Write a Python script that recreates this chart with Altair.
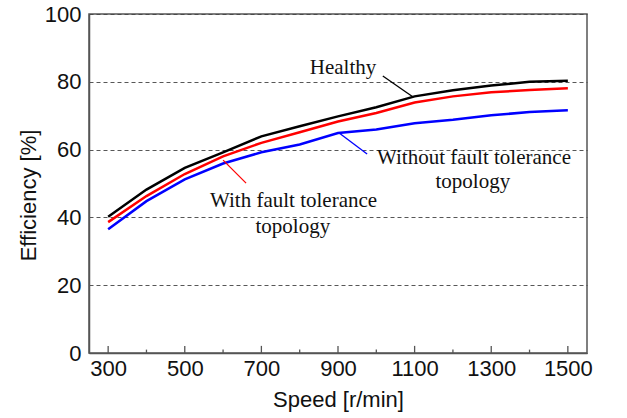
import altair as alt
import pandas as pd

speed = [300, 400, 500, 600, 700, 800, 900, 1000, 1100, 1200, 1300, 1400, 1500]
healthy = [40.2, 48.2, 54.6, 59.2, 63.9, 66.9, 69.8, 72.5, 75.7, 77.5, 78.9, 80.0, 80.3]
with_ft = [38.6, 46.3, 52.8, 58.0, 62.0, 65.1, 68.3, 70.8, 73.9, 75.7, 76.9, 77.6, 78.1]
without_ft = [36.5, 44.8, 51.2, 55.9, 59.2, 61.5, 64.9, 65.9, 67.8, 68.8, 70.1, 71.1, 71.6]

series_names = ["Without", "With", "Healthy"]
series_colors = ["#0000ff", "#ff0000", "#000000"]

x_major = [300, 500, 700, 900, 1100, 1300, 1500]
x_minor = [400, 600, 800, 1000, 1200, 1400]
y_ticks = [0, 20, 40, 60, 80, 100]

# annotation texts
ann_text = ["Healthy", "Without fault tolerance", "topology", "With fault tolerance", "topology"]
ann_x = [913, 1255, 1252, 784, 782]
ann_y = [82.4, 55.8, 48.7, 43.1, 35.4]

# leader lines
lead_series = ["Healthy", "Without", "With"]
lead_x1 = [1017, 903, 600]
lead_y1 = [81.7, 64.9, 56.9]
lead_x2 = [1096, 976, 660]
lead_y2 = [75.5, 58.7, 50.1]

rows = []
for name, vals in zip(series_names, [without_ft, with_ft, healthy]):
    for s, v in zip(speed, vals):
        rows.append({"speed": s, "eff": v, "series": name})
df = pd.DataFrame(rows)

xs = alt.Scale(domain=[250, 1550], nice=False, zero=False)
ys = alt.Scale(domain=[0, 100], nice=False)
cs = alt.Scale(domain=series_names, range=series_colors)

lines = alt.Chart(df).mark_line(strokeWidth=2.5).encode(
    x=alt.X("speed:Q", scale=xs,
            axis=alt.Axis(values=x_major, format="d", title="Speed [r/min]", ticks=False, grid=False,
                          labelFontSize=22, labelPadding=5, titleFontSize=22,
                          titleFontWeight="normal", titleY=36, titleBaseline="top",
                          labelFlush=False)),
    y=alt.Y("eff:Q", scale=ys,
            axis=alt.Axis(values=y_ticks, format="d", title="Efficiency [%]", ticks=False, grid=True,
                          gridDash=[4, 3], gridColor="#444", gridWidth=0.9,
                          labelFontSize=22, labelPadding=8, titleFontSize=22,
                          titleFontWeight="normal", titleX=-61, titleY=181,
                          titleAlign="center", titleBaseline="middle")),
    color=alt.Color("series:N", scale=cs, legend=None),
    detail="series:N",
)

tick_major = alt.Chart(pd.DataFrame({"t": x_major})).mark_rule(color="#555", strokeWidth=1.3).encode(
    x=alt.X("t:Q", scale=xs), y=alt.datum(0, scale=ys), y2=alt.datum(2.1))
tick_minor = alt.Chart(pd.DataFrame({"t": x_minor})).mark_rule(color="#555", strokeWidth=1.3).encode(
    x=alt.X("t:Q", scale=xs), y=alt.datum(0, scale=ys), y2=alt.datum(1.0))

lead_df = pd.DataFrame({"series": lead_series, "x1": lead_x1, "y1": lead_y1, "x2": lead_x2, "y2": lead_y2})
leaders = alt.Chart(lead_df).mark_rule(strokeWidth=1.3).encode(
    x=alt.X("x1:Q", scale=xs), y=alt.Y("y1:Q", scale=ys),
    x2="x2:Q", y2="y2:Q",
    color=alt.Color("series:N", scale=cs, legend=None),
)

ann_df = pd.DataFrame({"text": ann_text, "x": ann_x, "y": ann_y})
texts = alt.Chart(ann_df).mark_text(font="Liberation Serif", fontSize=21, align="center",
                                    baseline="alphabetic", color="#111").encode(
    x=alt.X("x:Q", scale=xs), y=alt.Y("y:Q", scale=ys), text="text:N")

chart = alt.layer(lines, tick_major, tick_minor, leaders, texts).properties(
    width=498, height=339,
    autosize=alt.AutoSizeParams(type="none"),
    padding={"left": 89, "top": 14, "right": 40, "bottom": 65},
).configure(font="Liberation Sans").configure_view(
    stroke="#555", strokeWidth=1.5
).configure_axis(
    domainColor="#555", domainWidth=1.5, labelColor="#111", titleColor="#111",
    labelFont="Liberation Sans", titleFont="Liberation Sans"
)

chart.save("out.html", embed_options={"renderer": "svg", "actions": False})
